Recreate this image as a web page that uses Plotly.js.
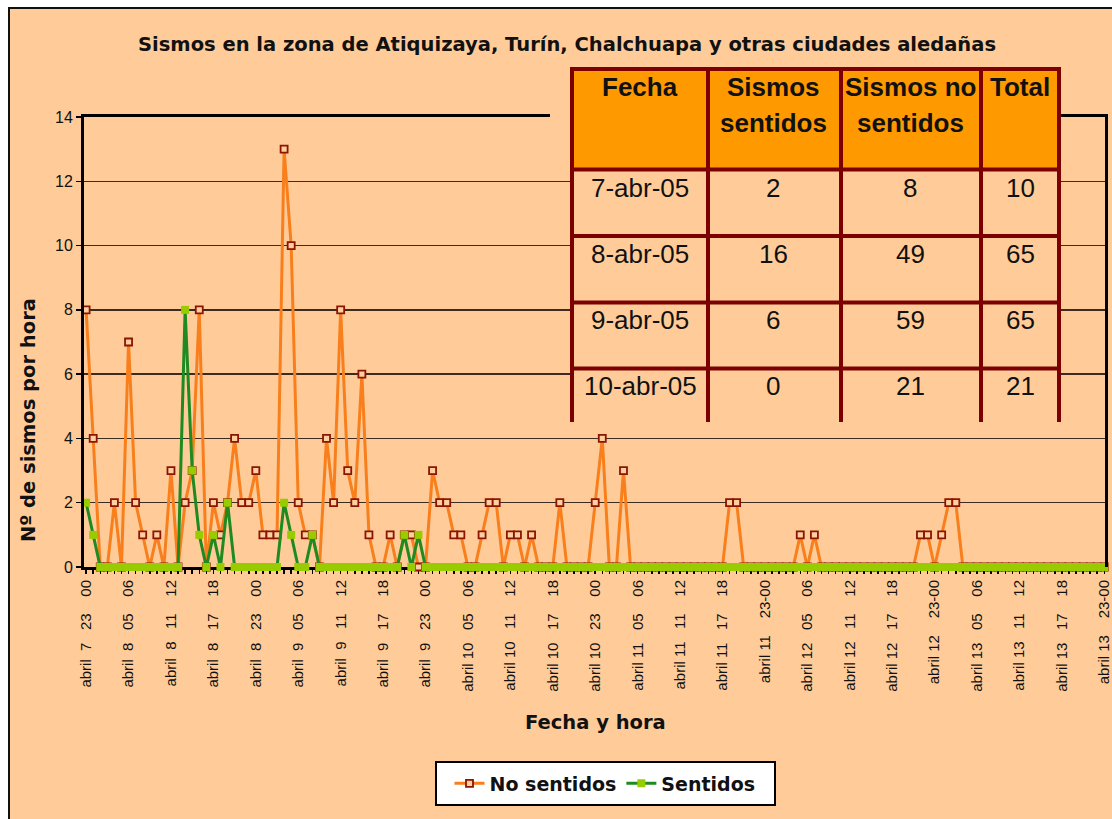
<!DOCTYPE html>
<html><head><meta charset="utf-8">
<script src="https://cdn.plot.ly/plotly-3.0.1.min.js"></script>
<style>
html,body{margin:0;padding:0;background:#fff;}
#frame{position:absolute;left:8px;top:7px;width:1112px;height:820px;background:#FFCC99;border:2px solid #111;box-sizing:border-box;}
#chart{position:absolute;left:0;top:0;width:1112px;height:819px;}
</style></head><body>
<div id="frame"></div><div id="chart"></div>
<script>
// Hourly counts from 7 April 23h to 13 April 23h (145 hours)
const noSentidos = [
  8,4,0,0,2,0,7,2,1,0,
  1,0,3,0,2,3,8,0,2,1,
  2,4,2,2,3,1,1,1,13,10,
  2,1,1,0,4,2,8,3,2,6,
  1,0,0,1,0,1,1,0,0,3,
  2,2,1,1,0,0,1,2,2,0,
  1,1,0,1,0,0,0,2,0,0,
  0,0,2,4,0,0,3,0,0,0,
  0,0,0,0,0,0,0,0,0,0,
  0,2,2,0,0,0,0,0,0,0,
  0,1,0,1,0,0,0,0,0,0,
  0,0,0,0,0,0,0,0,1,1,
  0,1,2,2,0,0,0,0,0,0,
  0,0,0,0,0,0,0,0,0,0,
  0,0,0,0,0
];
const sentidos = [
  2,1,0,0,0,0,0,0,0,0,
  0,0,0,0,8,3,1,0,1,0,
  2,0,0,0,0,0,0,0,2,1,
  0,0,1,0,0,0,0,0,0,0,
  0,0,0,0,0,1,0,1,0,0,
  0,0,0,0,0,0,0,0,0,0,
  0,0,0,0,0,0,0,0,0,0,
  0,0,0,0,0,0,0,0,0,0,
  0,0,0,0,0,0,0,0,0,0,
  0,0,0,0,0,0,0,0,0,0,
  0,0,0,0,0,0,0,0,0,0,
  0,0,0,0,0,0,0,0,0,0,
  0,0,0,0,0,0,0,0,0,0,
  0,0,0,0,0,0,0,0,0,0,
  0,0,0,0,0
];
const tickLabels = [
  "abril  7   23    00","abril  8   05    06","abril  8   11    12","abril  8   17    18",
  "abril  8   23    00","abril  9   05    06","abril  9   11    12","abril  9   17    18",
  "abril  9   23    00","abril 10   05    06","abril 10   11    12","abril 10   17    18",
  "abril 10   23    00","abril 11   05    06","abril 11   11    12","abril 11   17    18",
  "abril 11    23-00","abril 12   05    06","abril 12   11    12","abril 12   17    18",
  "abril 12    23-00","abril 13   05    06","abril 13   11    12","abril 13   17    18",
  "abril 13    23-00"
];
const tableDates = ["7-abr-05","8-abr-05","9-abr-05","10-abr-05"];
const tableSentidos = [2,16,6,0];
const tableNoSentidos = [8,49,59,21];
const tableTotal = [10,65,65,21];

const hours = noSentidos.map((_, i) => i);
// a tick at every hour, a label at every 6th
const tickText = hours.map(i => (i % 6 === 0 && tickLabels[i / 6] !== undefined) ? tickLabels[i / 6].replace(/ /g, "\u00a0") : "");

// pixel -> paper helpers (plot area: x 84..1105, y 117..567)
const L = 84, R = 1105, T = 117, B = 567;
const px = X => (X - L) / (R - L);
const py = Y => (B - Y) / (B - T);

const shapes = [];
const annotations = [];
const RED = "#7D0000";
shapes.push({type:"rect", xref:"paper", yref:"paper", x0:px(550), x1:px(572), y0:py(122), y1:py(112), fillcolor:"#FFCC99", line:{width:0}, layer:"above"});
shapes.push({type:"rect", xref:"paper", yref:"paper", x0:px(572), x1:px(1059), y0:py(421), y1:py(69), fillcolor:"#FFCC99", line:{width:0}, layer:"above"});
shapes.push({type:"rect", xref:"paper", yref:"paper", x0:px(572), x1:px(1059), y0:py(169.5), y1:py(69), fillcolor:"#FF9900", line:{width:0}, layer:"above"});
[69, 169.5, 236, 302.5, 368.5].forEach(Y => shapes.push({type:"line", xref:"paper", yref:"paper", x0:px(570), x1:px(1061), y0:py(Y), y1:py(Y), line:{color:RED, width:4}, layer:"above"}));
[572, 708, 841, 981, 1059].forEach(X => shapes.push({type:"line", xref:"paper", yref:"paper", x0:px(X), x1:px(X), y0:py(67), y1:py(422), line:{color:RED, width:4}, layer:"above"}));
shapes.push({type:"rect", xref:"paper", yref:"paper", x0:px(436), x1:px(775), y0:py(805), y1:py(762), fillcolor:"#ffffff", line:{color:"#000", width:2}, layer:"above"});

const colX = [640, 773, 910, 1020];
const tfont = {family:"Liberation Sans, Arial, sans-serif", size:26, color:"#111"};
function addText(txt, X, Y, font, extra) {
  annotations.push(Object.assign({text:txt, xref:"paper", yref:"paper", x:px(X), y:py(Y), xanchor:"center", yanchor:"middle", showarrow:false, font:font}, extra || {}));
}
addText("<b>Fecha</b>", colX[0], 87, tfont);
addText("<b>Sismos</b>", colX[1], 87, tfont);
addText("<b>sentidos</b>", colX[1], 123, tfont);
addText("<b>Sismos no</b>", colX[2], 87, tfont);
addText("<b>sentidos</b>", colX[2], 123, tfont);
addText("<b>Total</b>", colX[3], 87, tfont);
const rowY = [187.5, 254, 320, 386];
tableDates.forEach((d, r) => {
  addText(d, colX[0], rowY[r], tfont);
  addText(String(tableSentidos[r]), colX[1], rowY[r], tfont);
  addText(String(tableNoSentidos[r]), colX[2], rowY[r], tfont);
  addText(String(tableTotal[r]), colX[3], rowY[r], tfont);
});
const bfont = {family:"DejaVu Sans, Verdana, sans-serif", size:19.5, color:"#111"};
addText("<b>Fecha y hora</b>", 595, 722, bfont);
addText("<b>Nº de sismos por hora</b>", 28, 420, bfont, {textangle:-90});

const traces = [
  {x:hours, y:noSentidos, name:"No sentidos", type:"scatter", mode:"lines+markers", cliponaxis:false,
   line:{color:"#F87F1C", width:3},
   marker:{symbol:"square", size:7, color:"#FFCFA0", line:{color:"#8B1500", width:1.8}}},
  {x:hours, y:sentidos, name:"Sentidos", type:"scatter", mode:"lines+markers", cliponaxis:false,
   line:{color:"#1F8A1F", width:3},
   marker:{symbol:"square", size:8, color:"#99CC00", line:{width:0}}}
];

const layout = {
  width:1112, height:819,
  margin:{l:L, r:1112-R, t:T, b:819-B, pad:0},
  paper_bgcolor:"rgba(0,0,0,0)", plot_bgcolor:"rgba(0,0,0,0)",
  showlegend:true,
  title:{text:"<b>Sismos en la zona de Atiquizaya, Turín, Chalchuapa y otras ciudades aledañas</b>",
         xref:"container", yref:"container", x:567/1112, xanchor:"center", y:1-44/819, yanchor:"middle",
         font:{family:"DejaVu Sans, Verdana, sans-serif", size:19.5, color:"#111"}},
  xaxis:{range:[-0.3, 144.1], tickmode:"array", tickvals:hours, ticktext:tickText, tickangle:-90,
         ticks:"outside", ticklen:4, tickwidth:1.5, tickcolor:"#000", ticklabeloverflow:"allow",
         showgrid:false, zeroline:false, showline:true, linecolor:"#000", linewidth:3, mirror:true,
         layer:"below traces",
         tickfont:{family:"Liberation Sans, Arial, sans-serif", size:15, color:"#111"}},
  yaxis:{range:[0,14], tick0:0, dtick:2, ticks:"outside", ticklen:5, tickwidth:1.5, tickcolor:"#000",
         showgrid:true, gridcolor:"#3b2b20", gridwidth:1.4, zeroline:false,
         showline:true, linecolor:"#000", linewidth:3, mirror:true,
         tickfont:{family:"Liberation Sans, Arial, sans-serif", size:16, color:"#111"}},
  legend:{orientation:"h", x:px(605), xanchor:"center", y:py(783.5), yanchor:"middle",
          bgcolor:"rgba(0,0,0,0)", borderwidth:0,
          font:{family:"DejaVu Sans, Verdana, sans-serif", size:19, color:"#111", weight:"bold"}},
  shapes:shapes, annotations:annotations
};
Plotly.newPlot("chart", traces, layout, {displayModeBar:false, staticPlot:true});
</script></body></html>
